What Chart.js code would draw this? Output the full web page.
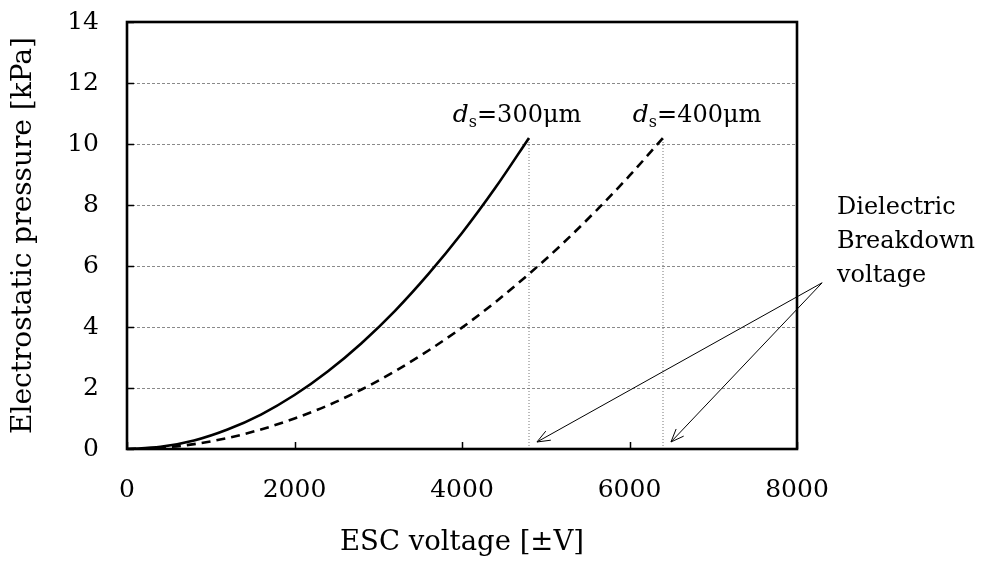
<!DOCTYPE html>
<html>
<head>
<meta charset="utf-8">
<script src="https://cdn.jsdelivr.net/npm/chart.js@4/dist/chart.umd.min.js"></script>
<style>
  html, body { margin:0; padding:0; background:#fff; }
  #wrap { width:987px; height:564px; }
</style>
</head>
<body>
<div id="wrap"><canvas id="c" width="987" height="564"></canvas></div>
<script>
/* ── data ── */
var voltage300 = [0, 400, 800, 1200, 1600, 2000, 2400, 2800, 3200, 3600, 4000, 4400, 4800];
var pressure300 = [0, 0.07, 0.28, 0.64, 1.13, 1.77, 2.55, 3.47, 4.53, 5.74, 7.08, 8.57, 10.2];
var voltage400 = [0, 400, 800, 1200, 1600, 2000, 2400, 2800, 3200, 3600, 4000, 4400, 4800, 5200, 5600, 6000, 6400];
var pressure400 = [0, 0.04, 0.16, 0.36, 0.64, 1.0, 1.43, 1.95, 2.55, 3.23, 3.98, 4.82, 5.74, 6.73, 7.81, 8.96, 10.2];
var breakdownV = [4800, 6400];
var breakdownP = [10.2, 10.2];
var seriesNames = ['300', '400'];
var xTickValues = [0, 2000, 4000, 6000, 8000];
var yTickValues = [0, 2, 4, 6, 8, 10, 12, 14];

var FONT = "'DejaVu Serif', serif";

function pts(xs, ys){
  return xs.map(function(x, i){ return {x: x, y: ys[i]}; });
}

var datasets = [
  { data: pts(voltage300, pressure300), borderColor:'#000', borderWidth:2.6, pointRadius:0, tension:0.4, cubicInterpolationMode:'monotone' },
  { data: pts(voltage400, pressure400), borderColor:'#000', borderWidth:2.6, borderDash:[9,6], pointRadius:0, tension:0.4, cubicInterpolationMode:'monotone' }
];
// vertical dotted drop lines at the breakdown voltage
breakdownV.forEach(function(v, i){
  datasets.push({ data:[{x:v, y:0}, {x:v, y:breakdownP[i]}], borderColor:'#777', borderWidth:1, borderDash:[1,2], pointRadius:0 });
});
// arrows from the "Dielectric Breakdown voltage" note to the drop lines
var arrowFrom = {x:8300, y:5.45};
breakdownV.forEach(function(v){
  datasets.push({ data:[arrowFrom, {x:v + 95, y:0.23}], borderColor:'#000', borderWidth:1, pointRadius:0, clip:false, _arrow:true });
});

/* ── plugin: frame, inward ticks, arrowheads, text notes ── */
var decor = {
  id:'decor',
  afterDatasetsDraw: function(chart){
    var ctx = chart.ctx, a = chart.chartArea;
    var xs = chart.scales.x, ys = chart.scales.y;
    ctx.save();

    // arrowheads
    chart.data.datasets.forEach(function(ds, i){
      if(!ds._arrow) return;
      var m = chart.getDatasetMeta(i).data;
      var p0 = m[0], p1 = m[1];
      var ang = Math.atan2(p1.y - p0.y, p1.x - p0.x);
      var L = 14, w = 0.38;
      ctx.strokeStyle = '#000'; ctx.lineWidth = 1;
      ctx.beginPath();
      ctx.moveTo(p1.x - L*Math.cos(ang - w), p1.y - L*Math.sin(ang - w));
      ctx.lineTo(p1.x, p1.y);
      ctx.lineTo(p1.x - L*Math.cos(ang + w), p1.y - L*Math.sin(ang + w));
      ctx.stroke();
    });

    // frame
    ctx.strokeStyle = '#000'; ctx.lineWidth = 2.6;
    ctx.strokeRect(a.left, a.top, a.right - a.left, a.bottom - a.top);

    // inward ticks
    ctx.lineWidth = 1.5;
    ctx.beginPath();
    xTickValues.forEach(function(v){
      var px = Math.round(xs.getPixelForValue(v)) + 0.5;
      ctx.moveTo(px, a.bottom); ctx.lineTo(px, a.bottom - 7);
    });
    yTickValues.forEach(function(v){
      var py = Math.round(ys.getPixelForValue(v)) + 0.5;
      ctx.moveTo(a.left, py); ctx.lineTo(a.left + 7, py);
    });
    ctx.stroke();

    // d_s labels
    ctx.fillStyle = '#000';
    ctx.textBaseline = 'alphabetic';
    var labelX = [3890, 6040];
    seriesNames.forEach(function(nm, i){
      var x = xs.getPixelForValue(labelX[i]);
      var y = ys.getPixelForValue(10.72);
      ctx.font = 'italic 25px ' + FONT;
      ctx.fillText('d', x, y);
      x += ctx.measureText('d').width;
      ctx.font = '16px ' + FONT;
      ctx.fillText('s', x, y + 5);
      x += ctx.measureText('s').width;
      ctx.font = '24px ' + FONT;
      ctx.fillText('=' + nm + 'μm', x, y);
    });

    // note
    ctx.font = '24px ' + FONT;
    ctx.textBaseline = 'middle';
    var nx = a.right + 40;
    ['Dielectric', 'Breakdown', 'voltage'].forEach(function(t, k){
      ctx.fillText(t, nx, 208 + k*34);
    });
    ctx.restore();
  }
};

new Chart(document.getElementById('c').getContext('2d'), {
  type:'line',
  data:{ datasets: datasets },
  plugins:[decor],
  options:{
    responsive:false,
    animation:false,
    layout:{ padding:{ top:22, right:190, left:0, bottom:0 } },
    plugins:{ legend:{ display:false }, tooltip:{ enabled:false } },
    scales:{
      x:{
        type:'linear', min:0, max:8000,
        afterBuildTicks: function(s){ s.ticks = xTickValues.map(function(v){ return {value:v}; }); },
        afterFit: function(s){ s.height = 115; s.paddingLeft = 0; s.paddingRight = 0; },
        grid:{ display:false },
        border:{ display:false },
        ticks:{ color:'#000', padding:18, maxRotation:0, font:{ family:FONT, size:25 },
          callback: function(v){ return String(v); } },
        title:{ display:true, text:'ESC voltage [±V]', color:'#000', padding:{ bottom:5, top:0 }, font:{ family:FONT, size:27.5 } }
      },
      y:{
        min:0, max:14,
        afterBuildTicks: function(s){ s.ticks = yTickValues.map(function(v){ return {value:v}; }); },
        afterFit: function(s){ s.width = 127; s.paddingTop = 0; s.paddingBottom = 0; },
        grid:{ color:'#8a8a8a', lineWidth:1, drawTicks:false },
        border:{ display:false, dash:[3,2] },
        ticks:{ color:'#000', padding:28, font:{ family:FONT, size:25 } },
        title:{ display:true, text:'Electrostatic pressure [kPa]', color:'#000', padding:{ top:7, bottom:0 }, font:{ family:FONT, size:28 } }
      }
    }
  }
});
</script>
</body>
</html>
